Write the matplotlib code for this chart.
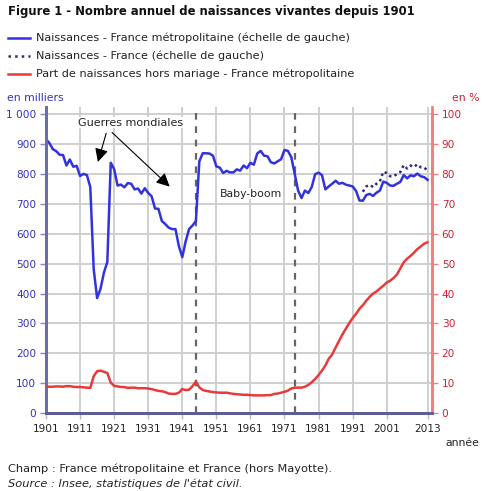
import matplotlib
matplotlib.use("Agg")
import matplotlib.pyplot as plt
import numpy as np

annees = list(range(1901, 2014))
naissances_metro = [
    917, 904, 884, 877, 865, 864, 829, 849, 825, 828,   # 1901-1910
    794, 801, 797, 757, 482, 385, 416, 470, 506, 838,   # 1911-1920
    817, 762, 765, 756, 770, 768, 749, 752, 735, 753,   # 1921-1930
    737, 726, 685, 684, 643, 633, 621, 616, 616, 559,   # 1931-1940
    522, 575, 616, 628, 643, 843, 870, 870, 869, 862,   # 1941-1950
    826, 822, 804, 811, 806, 806, 816, 812, 829, 820,   # 1951-1960
    838, 832, 869, 878, 862, 860, 840, 836, 843, 850,   # 1961-1970
    881, 878, 857, 801, 745, 720, 745, 737, 757, 800,   # 1971-1980
    805, 797, 749, 759, 768, 778, 768, 771, 765, 762,   # 1981-1990
    759, 744, 712, 711, 730, 734, 727, 738, 745, 775,   # 1991-2000
    771, 762, 761, 768, 774, 797, 786, 796, 793, 802,   # 2001-2010
    793, 790, 781,                                      # 2011-2013
]
annees_france = list(range(1994, 2014))
naissances_france = [741, 759, 764, 757, 768, 776, 808, 804, 793, 793,
                     800, 807, 830, 819, 829, 824, 833, 823, 822, 812]
part_hors_mariage = [
    8.8, 8.8, 8.8, 8.9, 8.9, 8.8, 9.0, 9.0, 8.8, 8.7,
    8.7, 8.6, 8.5, 8.4, 12.3, 14.0, 14.2, 13.8, 13.4, 10.2,
    9.1, 8.9, 8.7, 8.7, 8.4, 8.5, 8.5, 8.3, 8.3, 8.3,
    8.2, 8.0, 7.7, 7.4, 7.3, 7.0, 6.5, 6.4, 6.4, 6.8,
    8.0, 7.7, 7.8, 9.0, 10.5, 8.6, 7.7, 7.4, 7.2, 7.0,
    6.9, 6.8, 6.8, 6.8, 6.6, 6.4, 6.3, 6.2, 6.1, 6.1,
    6.0, 5.9, 5.9, 5.9, 5.9, 6.0, 6.0, 6.4, 6.5, 6.8,
    7.1, 7.5, 8.2, 8.5, 8.5, 8.5, 8.8, 9.4, 10.3, 11.4,
    12.7, 14.2, 15.9, 18.2, 19.6, 21.9, 24.1, 26.3, 28.2, 30.1,
    31.8, 33.2, 34.9, 36.1, 37.6, 38.9, 40.0, 40.7, 41.7, 42.6,
    43.7, 44.3, 45.2, 46.4, 48.4, 50.5, 51.7, 52.6, 53.7, 54.9,
    55.8, 56.7, 57.2,
]
xticks = [1901, 1911, 1921, 1931, 1941, 1951, 1961, 1971, 1981, 1991, 2001, 2013]
yticks_g = [0, 100, 200, 300, 400, 500, 600, 700, 800, 900, 1000]
ylabels_g = ['0', '100', '200', '300', '400', '500', '600', '700', '800', '900', '1 000']
yticks_d = [0, 10, 20, 30, 40, 50, 60, 70, 80, 90, 100]
guerres = [1945, 1974]

bleu = '#3333dd'
rouge = '#e83a3a'
gris_grille = '#cfcfcf'

plt.rcParams['font.family'] = 'DejaVu Sans'
fig = plt.figure(figsize=(4.84, 4.91), dpi=100)
ax = fig.add_axes([46/484, 1-413/491, (432-46)/484, (413-107)/491])
ax2 = ax.twinx()

ax.plot(annees, naissances_metro, color=bleu, lw=1.8, zorder=4)
ax.plot(annees_france, naissances_france, color='#2b2b77', lw=1.8, ls=(0, (1, 1.3)), zorder=4)
ax2.plot(annees, part_hors_mariage, color=rouge, lw=1.8, zorder=4)
for g in guerres:
    ax.axvline(g, color='#666666', lw=1.6, ls=(0, (3, 3)), zorder=3)

ax.set_xlim(1901, 2014.3)
ax.set_ylim(0, 1025)
ax2.set_ylim(0, 102.5)
ax.set_xticks(xticks)
ax.set_yticks(yticks_g)
ax.set_yticklabels(ylabels_g)
ax2.set_yticks(yticks_d)
ax.grid(True, color=gris_grille, lw=1.4)
ax.set_axisbelow(True)

ax.tick_params(axis='x', colors='#bbbbbb', labelcolor='#222222', labelsize=7.6, length=4, width=1, pad=4)
ax.tick_params(axis='y', colors='#8888bb', labelcolor='#3333bb', labelsize=7.6, length=4, width=1, pad=3)
ax2.tick_params(axis='y', colors='#f08080', labelcolor='#cc2233', labelsize=7.6, length=4, width=1, pad=3)
for a in (ax, ax2):
    a.spines['top'].set_visible(False)
    a.spines['left'].set_color('#6b6bb5')
    a.spines['left'].set_linewidth(2)
    a.spines['bottom'].set_color('#5c5c9c')
    a.spines['bottom'].set_linewidth(2)
    a.spines['right'].set_color('#f08080')
    a.spines['right'].set_linewidth(2)
ax2.spines['right'].set_bounds(0, 100)

# annotations
ax.annotate('', xy=(1916.0, 832), xytext=(1918.9, 946),
            arrowprops=dict(arrowstyle='-|>', color='black', lw=0.8, mutation_scale=20))
ax.annotate('', xy=(1937.9, 752), xytext=(1919.8, 946),
            arrowprops=dict(arrowstyle='-|>', color='black', lw=0.8, mutation_scale=20))
ax.text(1925.7, 972, 'Guerres mondiales', ha='center', va='center', fontsize=8, color='#222222',
        bbox=dict(facecolor='white', edgecolor='none', pad=0.5))
ax.text(1961.3, 735, 'Baby-boom', ha='center', va='center', fontsize=7.8, color='#222222',
        bbox=dict(facecolor='white', edgecolor='none', pad=0.5))

# textes
fig.text(8/484, 1-12/491, 'Figure 1 - Nombre annuel de naissances vivantes depuis 1901',
         fontsize=8.4, fontweight='bold', va='center', ha='left', color='#111111')
legende = [('Naissances - France métropolitaine (échelle de gauche)', bleu, '-'),
           ('Naissances - France (échelle de gauche)', '#2b2b77', ':'),
           ('Part de naissances hors mariage - France métropolitaine', rouge, '-')]
for i, (lab, c, st) in enumerate(legende):
    y = 1 - (38 + 18*i)/491
    fig.add_artist(plt.Line2D([8/484, 30/484], [y, y], color=c, lw=1.8, ls=st))
    fig.text(36/484, y, lab, fontsize=8.1, va='center', ha='left', color='#222222')
fig.text(7/484, 1-98/491, 'en milliers', fontsize=7.8, va='center', ha='left', color='#3333bb')
fig.text(479/484, 1-98/491, 'en %', fontsize=7.8, va='center', ha='right', color='#cc2233')
fig.text(479/484, 1-443/491, 'année', fontsize=7.8, va='center', ha='right', color='#222222')
fig.text(8/484, 1-469/491, 'Champ : France métropolitaine et France (hors Mayotte).',
         fontsize=8.2, va='center', ha='left', color='#222222')
fig.text(8/484, 1-484/491, "Source : Insee, statistiques de l'état civil.",
         fontsize=8.2, va='center', ha='left', color='#222222', style='italic')

fig.savefig('out.png', dpi=100)
